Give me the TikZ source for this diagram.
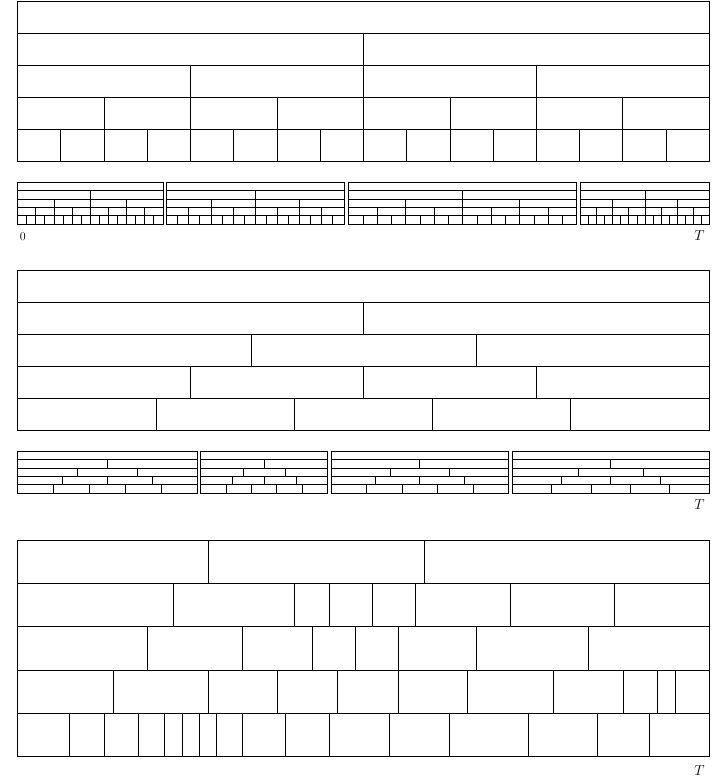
\documentclass[tikz,border=0pt]{standalone}
\usepackage{tikz}
\tikzset{grid line/.style={line width=0.9pt, black}}
\newcommand{\binblk}[4]{%
  \draw[grid line] (#1,#3) rectangle (#2,#3+5*#4);
  \foreach \k in {1,...,4} \draw[grid line] (#1,#3+\k*#4) -- (#2,#3+\k*#4);
  \foreach \k/\n in {1/2,2/4,3/8,4/16} {
    \pgfmathtruncatemacro\mm{\n-1}
    \foreach \j in {1,...,\mm} \draw[grid line] ({#1+(#2-#1)*\j/\n},{#3+\k*#4}) -- ++(0,#4);
  }%
}
\newcommand{\uniblk}[4]{%
  \draw[grid line] (#1,#3) rectangle (#2,#3+5*#4);
  \foreach \k in {1,...,4} \draw[grid line] (#1,#3+\k*#4) -- (#2,#3+\k*#4);
  \foreach \k in {2,...,5} {
    \pgfmathtruncatemacro\mm{\k-1}
    \foreach \j in {1,...,\mm} \draw[grid line] ({#1+(#2-#1)*\j/\k},{#3+(\k-1)*#4}) -- ++(0,#4);
  }%
}
\begin{document}
\begin{tikzpicture}[x=1pt,y=-1pt]
\useasboundingbox (0,0) rectangle (719,781);
% section 1
\binblk{17.7}{709.3}{1.3}{32}
% section 2
\binblk{17.7}{163}{182.3}{8.34}
\binblk{166.7}{344}{182.3}{8.34}
\binblk{348.7}{576.7}{182.3}{8.34}
\binblk{580.7}{709.3}{182.3}{8.34}
\node[font=\fontsize{12}{12}\selectfont] (zero) at (22.7,236.5) {0};
\node[font=\fontsize{14}{14}\selectfont] (t1) at (699.5,235.5) {$T$};
% section 3
\draw[grid line] (17.7,270.3) rectangle (709.3,430.3);
\foreach \y in {302.3,334.3,366.3,398.3} \draw[grid line] (17.7,\y) -- (709.3,\y);
\draw[grid line] (363.5,302.3) -- (363.5,334.3);
\foreach \x in {251,476} \draw[grid line] (\x,334.3) -- (\x,366.3);
\foreach \x in {190.6,363.5,536.4} \draw[grid line] (\x,366.3) -- (\x,398.3);
\foreach \x in {156,294.3,432.6,570.9} \draw[grid line] (\x,398.3) -- (\x,430.3);
% section 4
\uniblk{17.7}{197.3}{451.3}{8.34}
\uniblk{200.7}{327.7}{451.3}{8.34}
\uniblk{331}{508.7}{451.3}{8.34}
\uniblk{512.3}{709.3}{451.3}{8.34}
\node[font=\fontsize{14}{14}\selectfont] (t2) at (699.5,505) {$T$};
% section 5
\draw[grid line] (17.7,540) rectangle (709.3,756.7);
\foreach \y in {583.3,626.7,670,713.3} \draw[grid line] (17.7,\y) -- (709.3,\y);
\foreach \x in {208,424} \draw[grid line] (\x,540) -- (\x,583.3);
\foreach \x in {173.3,294.3,329,372.3,415.3,510.3,614.3} \draw[grid line] (\x,583.3) -- (\x,626.7);
\foreach \x in {147.3,242.7,312,355,398.7,476,588.7} \draw[grid line] (\x,626.7) -- (\x,670);
\foreach \x in {113,208,277.3,337.7,398.3,467.3,553.7,623.3,657.7,675} \draw[grid line] (\x,670) -- (\x,713.3);
\foreach \x in {69.7,104.3,138.7,164.7,182,199.3,216.7,242.7,285.7,329,389.3,449.7,528,597,649} \draw[grid line] (\x,713.3) -- (\x,756.7);
\node[font=\fontsize{14}{14}\selectfont] (t3) at (699.5,770.5) {$T$};
\end{tikzpicture}
\end{document}
